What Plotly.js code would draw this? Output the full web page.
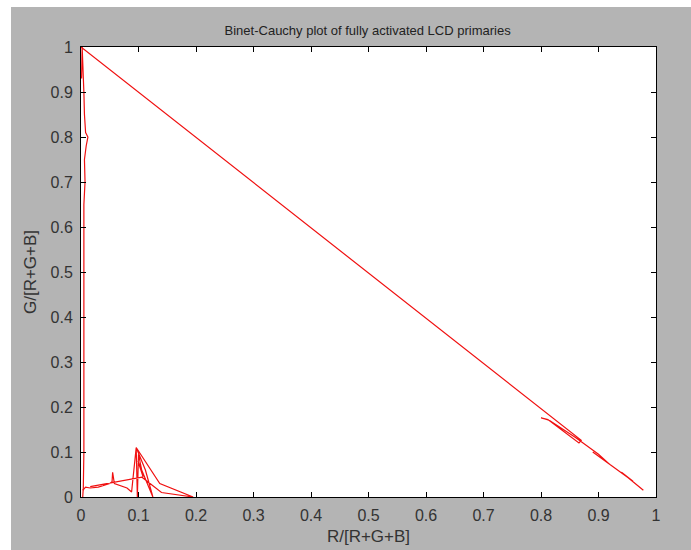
<!DOCTYPE html>
<html>
<head>
<meta charset="utf-8">
<script src="https://cdn.plot.ly/plotly-3.0.1.min.js"></script>
<style>html,body{margin:0;padding:0;background:#b4b4b4;}#plot{width:691px;height:550px;}</style>
</head>
<body>
<div id="plot"></div>
<script>
// Diagonal trace (red primary sweeping along R+G=1)
const diagR = [0.000, 0.800, 0.830, 0.870, 0.866, 0.812, 0.800, 0.815, 0.860, 0.900, 0.920, 0.890, 0.930, 0.960, 0.940, 0.978];
const diagG = [1.000, 0.195, 0.165, 0.126, 0.120, 0.172, 0.176, 0.170, 0.132, 0.095, 0.072, 0.100, 0.063, 0.035, 0.055, 0.015];

// Left vertical trace (green primary)
const leftR = [0.003, 0.004, 0.005, 0.005, 0.004, 0.005, 0.007, 0.006, 0.009, 0.012, 0.008, 0.006, 0.005, 0.003, 0.002, 0.001, 0.002];
const leftG = [0.000, 0.020, 0.100, 0.300, 0.500, 0.650, 0.700, 0.750, 0.780, 0.800, 0.810, 0.850, 0.900, 0.950, 1.000, 0.930, 0.990];

// Bottom-left cluster (blue primary)
const lowR = [0.003, 0.008, 0.016, 0.030, 0.038, 0.050, 0.054, 0.055, 0.058, 0.070, 0.080, 0.088, 0.096, 0.098, 0.100, 0.108, 0.099, 0.125, 0.112, 0.096, 0.137, 0.195, 0.140, 0.106, 0.016];
const lowG = [0.015, 0.022, 0.020, 0.022, 0.025, 0.030, 0.034, 0.055, 0.030, 0.025, 0.020, 0.011, 0.110, 0.000, 0.095, 0.045, 0.080, 0.000, 0.060, 0.110, 0.030, 0.000, 0.010, 0.044, 0.023];

const xTicks = [0, 0.1, 0.2, 0.3, 0.4, 0.5, 0.6, 0.7, 0.8, 0.9, 1];
const xTickText = ['0', '0.1', '0.2', '0.3', '0.4', '0.5', '0.6', '0.7', '0.8', '0.9', '1'];
const yTicks = xTicks;
const yTickText = xTickText;

const lineStyle = {color: '#f01010', width: 1.2};
const traces = [
  {x: diagR, y: diagG, mode: 'lines', line: lineStyle, hoverinfo: 'skip'},
  {x: leftR, y: leftG, mode: 'lines', line: lineStyle, hoverinfo: 'skip'},
  {x: lowR, y: lowG, mode: 'lines', line: lineStyle, hoverinfo: 'skip'}
];

const fam = 'Liberation Sans, Arial, sans-serif';
const titleFont = {family: fam, size: 13, color: '#222'};
const tickFont = {family: fam, size: 16, color: '#333'};
const axTitleFont = {family: fam, size: 17, color: '#333'};
const axisBase = {
  range: [0, 1], showgrid: false, zeroline: false,
  showline: true, linecolor: '#000', linewidth: 1, mirror: 'ticks',
  ticks: 'inside', ticklen: 5, tickcolor: '#000', tickwidth: 1,
  tickfont: tickFont
};

const layout = {
  width: 691, height: 550,
  margin: {l: 81, r: 35, t: 47, b: 53},
  paper_bgcolor: '#b4b4b4', plot_bgcolor: '#ffffff',
  showlegend: false,
  font: titleFont,
  title: {text: 'Binet-Cauchy plot of fully activated LCD primaries', font: titleFont, x: 0.532, xanchor: 'center', y: 0.945, yanchor: 'middle'},
  xaxis: Object.assign({}, axisBase, {tickvals: xTicks, ticktext: xTickText, ticklabelstandoff: 4,
    title: {text: 'R/[R+G+B]', font: axTitleFont, standoff: 6}}),
  yaxis: Object.assign({}, axisBase, {tickvals: yTicks, ticktext: yTickText, ticklabelstandoff: 4,
    title: {text: 'G/[R+G+B]', font: axTitleFont, standoff: 9}}),
  shapes: [
    {type: 'rect', xref: 'paper', yref: 'paper', x0: -81/575, x1: -70/575, y0: -53/450, y1: 1 + 47/450, fillcolor: '#ffffff', line: {width: 0}, layer: 'below'},
    {type: 'rect', xref: 'paper', yref: 'paper', x0: -81/575, x1: 1 + 35/575, y0: 1 + 40/450, y1: 1 + 47/450, fillcolor: '#ffffff', line: {width: 0}, layer: 'below'}
  ]
};

Plotly.newPlot('plot', traces, layout, {displayModeBar: false, staticPlot: true});
</script>
</body>
</html>
